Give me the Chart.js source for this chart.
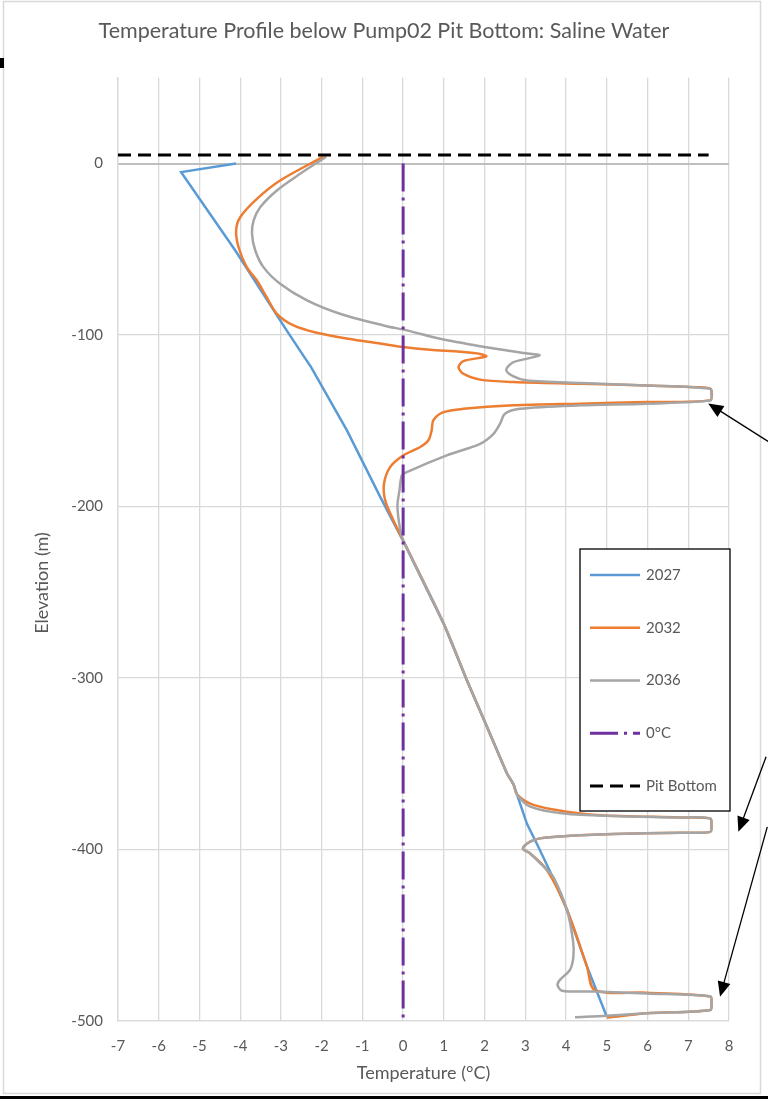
<!DOCTYPE html>
<html lang="en">
  <head>
    <title>Temperature Profile below Pump02 Pit Bottom</title>
    <meta charset="utf-8" />
    <style>
      body { margin: 0; background: #fff; }
      #marco { position: relative; width: 768px; height: 1102px; }
    </style>
  </head>
  <body>
    <div id="marco"><canvas id="lienzo"></canvas></div>

    <script src="https://cdn.jsdelivr.net/npm/chart.js"></script>
    <script>
      // temperature (°C) against elevation (m) for each model year
      const temp2027 = [-4.1, -5.45, -4.12, -2.86, -2.45, -2.26, -1.38, -0.56, 0, 0.99, 1.56, 2.06, 2.55, 2.71, 3.04, 3.28, 3.61, 4.02, 4.51, 5.0];
      const elev2027 = [0, -5, -50.7, -97.3, -112, -118.7, -155.6, -194.5, -220, -268, -301, -328.5, -355.7, -362, -385, -396.5, -413, -435, -468, -497.5];

      const temp2032 = [-1.96, -3.02, -3.59, -4.0, -4.1, -4.04, -3.84, -3.59, -3.35, -3.1, -2.69, -2.15, -1.35, -0.56, 0, 0.66, 1.4, 1.89, 2.04, 1.48,
        1.36, 1.48, 1.89, 2.71, 4.35, 5.98, 7.21, 7.54, 7.57, 7.54, 5.98, 4.35, 2.71, 1.48, 0.99, 0.74, 0.7, 0.62, 0.42, 0,
        -0.32, -0.47, -0.44, -0.24, 0, 0.99, 1.56, 2.06, 2.55, 2.71, 2.8, 3.2, 4.02, 4.84, 6.8, 7.54, 7.57, 7.54, 6.8, 5.16,
        3.94, 3.36, 3.12, 2.94, 3.12, 3.53, 4.02, 4.51, 4.71, 5.98, 7.54, 7.57, 7.54, 5.98, 5.08, 5.0];
      const elev2032 = [4, -9.9, -20.6, -31.3, -39, -48.8, -60.4, -68.2, -77.9, -87.6, -94.4, -98.5, -102.2, -105, -107, -108.6, -109.8, -111, -112.5, -115.2,
        -118.7, -122.6, -126, -127.4, -128.4, -129.4, -130.4, -131.3, -134.5, -138.1, -139.1, -140, -141, -143, -145, -149.8, -155.6, -161.4, -165.3, -170.2,
        -177, -186.7, -196.4, -208, -219.7, -268, -301, -328.5, -355.7, -362, -368, -374, -378, -380, -381.3, -381.9, -385.8, -389.7, -390.2, -391,
        -392.2, -393.5, -395.4, -399.4, -402.3, -412, -435, -468, -482, -483.5, -485.7, -489.5, -493.6, -495.5, -497.8, -498];

      const temp2036 = [-1.89, -2.53, -3.1, -3.51, -3.67, -3.71, -3.63, -3.43, -3.02, -2.36, -1.55, -0.48, 0.09, 0.91, 1.89, 2.95, 3.35, 2.71, 2.53, 2.71,
        3.04, 4.35, 5.98, 7.54, 7.58, 7.54, 5.98, 4.35, 2.87, 2.5, 2.38, 2.22, 1.89, 1.07, 0.09, -0.03, -0.09, -0.14, -0.07, 0,
        0.99, 1.56, 2.06, 2.55, 2.71, 2.8, 3.12, 3.94, 5.16, 6.8, 7.54, 7.57, 7.54, 6.8, 5.16, 3.94, 3.36, 3.12, 2.94, 3.12,
        3.53, 3.69, 4.02, 4.17, 4.18, 4.1, 3.85, 3.79, 3.9, 4.71, 5.98, 7.54, 7.57, 7.54, 5.98, 5.0, 4.22];
      const elev2036 = [4, -6, -15.7, -25.5, -33.2, -41, -50.7, -60.4, -70.1, -79.8, -87.6, -94.4, -97.3, -102.2, -106.5, -110.5, -111.9, -115.8, -120.2, -124.1,
        -126.5, -128, -129.4, -131.3, -134.2, -138.1, -140, -141, -143, -145.9, -151.7, -157.6, -163.4, -170.2, -179.9, -181.8, -190.6, -200, -213.9, -219.7,
        -268, -301, -328.5, -355.7, -362, -368, -375, -379, -380.5, -381.3, -381.9, -385.8, -389.7, -390.2, -391, -392.2, -393.5, -395.4, -399.4, -402.3,
        -412, -416, -435, -453, -462.5, -470, -476, -479, -482.3, -482.8, -484, -485.7, -489.5, -493.6, -495.5, -497, -497.8];

      // reference lines
      const zeroTemp = [0, 0];
      const zeroElev = [0, -500];
      const pitTemp = [-7, 7.5];
      const pitElev = [5, 5];

      // axis ticks
      const tempTicks = [-7, -6, -5, -4, -3, -2, -1, 0, 1, 2, 3, 4, 5, 6, 7, 8];
      const elevTicks = [0, -100, -200, -300, -400, -500];

      // callout arrows, [temperature, elevation] of tail and head
      const flechas = [
        { cola: [8.96, -162], punta: [7.49, -139.9] },
        { cola: [8.91, -345.9], punta: [8.23, -389.7] },
        { cola: [8.94, -386.8], punta: [7.78, -485.8] },
      ];

      const gris = "#595959";
      const fuente = "Lato";

      function puntos(xs, ys) {
        return xs.map((t, i) => ({ x: t, y: ys[i] }));
      }

      function dibujarFlecha(ctx, x1, y1, x2, y2) {
        const ang = Math.atan2(y2 - y1, x2 - x1);
        const largo = 15, ancho = 6.5;
        ctx.beginPath();
        ctx.moveTo(x1, y1);
        ctx.lineTo(x2 - Math.cos(ang) * largo * 0.8, y2 - Math.sin(ang) * largo * 0.8);
        ctx.stroke();
        ctx.beginPath();
        ctx.moveTo(x2, y2);
        ctx.lineTo(x2 - Math.cos(ang) * largo - Math.sin(ang) * ancho, y2 - Math.sin(ang) * largo + Math.cos(ang) * ancho);
        ctx.lineTo(x2 - Math.cos(ang) * largo + Math.sin(ang) * ancho, y2 - Math.sin(ang) * largo - Math.cos(ang) * ancho);
        ctx.closePath();
        ctx.fill();
      }

      const adornos = {
        id: "adornos",
        afterLayout(chart) {
          // centre the title on the whole canvas, not just the padded area
          if (chart.titleBlock) {
            chart.titleBlock.left = 0;
            chart.titleBlock.right = chart.width;
          }
        },
        beforeDraw(chart) {
          const { ctx, width, height } = chart;
          ctx.save();
          ctx.fillStyle = "#fff";
          ctx.fillRect(0, 0, width, height);
          ctx.strokeStyle = "#d9d9d9";
          ctx.lineWidth = 1.5;
          ctx.strokeRect(3.5, 1.5, 757, 1092);
          ctx.restore();
        },
        afterDraw(chart) {
          const { ctx, chartArea, scales } = chart;
          ctx.save();

          // vertical axis title
          ctx.fillStyle = gris;
          ctx.font = `18px ${fuente}`;
          ctx.textAlign = "center";
          ctx.textBaseline = "middle";
          ctx.translate(42, 583);
          ctx.rotate(-Math.PI / 2);
          ctx.fillText("Elevation (m)", 0, 0);
          ctx.setTransform(1, 0, 0, 1, 0, 0);

          // legend box
          const izq = chartArea.right - 149, arriba = 549;
          ctx.fillStyle = "#fff";
          ctx.fillRect(izq, arriba, 150, 262);
          ctx.strokeStyle = "#000";
          ctx.lineWidth = 1.3;
          ctx.strokeRect(izq, arriba, 150, 262);
          chart.data.datasets.forEach((ds, i) => {
            const fy = arriba + 26 + i * 52.75;
            ctx.strokeStyle = ds.borderColor;
            ctx.lineWidth = ds.borderWidth;
            ctx.setLineDash(ds.borderDash || []);
            ctx.beginPath();
            ctx.moveTo(izq + 10, fy);
            ctx.lineTo(izq + 60, fy);
            ctx.stroke();
            ctx.setLineDash([]);
            ctx.fillStyle = gris;
            ctx.font = `15px ${fuente}`;
            ctx.textAlign = "left";
            ctx.textBaseline = "middle";
            ctx.fillText(ds.label, izq + 66, fy);
          });

          // callout arrows
          ctx.strokeStyle = "#000";
          ctx.fillStyle = "#000";
          ctx.lineWidth = 1.3;
          flechas.forEach((f) => {
            dibujarFlecha(
              ctx,
              scales.x.getPixelForValue(f.cola[0]), scales.y.getPixelForValue(f.cola[1]),
              scales.x.getPixelForValue(f.punta[0]), scales.y.getPixelForValue(f.punta[1])
            );
          });

          // page edge marks
          ctx.fillStyle = "#000";
          ctx.fillRect(0, 1096, 768, 3);
          ctx.fillRect(0, 58, 4, 10);
          ctx.restore();
        },
      };

      const contexto = document.querySelector("#lienzo");
      const grafico = new Chart(contexto, {
        type: "scatter",
        data: {
          datasets: [
            {
              label: "2027",
              data: puntos(temp2027, elev2027),
              showLine: true,
              borderColor: "#5B9BD5",
              borderWidth: 2.5,
              tension: 0,
              pointRadius: 0,
              order: 5,
            },
            {
              label: "2032",
              data: puntos(temp2032, elev2032),
              showLine: true,
              borderColor: "#ED7D31",
              borderWidth: 2.5,
              tension: 0.3,
              pointRadius: 0,
              order: 4,
            },
            {
              label: "2036",
              data: puntos(temp2036, elev2036),
              showLine: true,
              borderColor: "#A5A5A5",
              borderWidth: 2.5,
              tension: 0.3,
              pointRadius: 0,
              order: 3,
            },
            {
              label: "0°C",
              data: puntos(zeroTemp, zeroElev),
              showLine: true,
              borderColor: "#7030A0",
              borderWidth: 3,
              borderDash: [28, 6, 3, 6],
              pointRadius: 0,
              order: 2,
            },
            {
              label: "Pit Bottom",
              data: puntos(pitTemp, pitElev),
              showLine: true,
              borderColor: "#000000",
              borderWidth: 3,
              borderDash: [13, 7],
              pointRadius: 0,
              order: 1,
            },
          ],
        },
        options: {
          responsive: true,
          maintainAspectRatio: false,
          animation: false,
          layout: { padding: { left: 0, right: 39, top: 0, bottom: 0 } },
          plugins: {
            legend: { display: false },
            tooltip: { enabled: false },
            title: {
              display: true,
              text: "Temperature Profile below Pump02 Pit Bottom: Saline Water",
              color: gris,
              font: { family: fuente, size: 21.5, weight: "normal" },
              padding: { top: 18, bottom: 34 },
            },
          },
          scales: {
            x: {
              type: "linear",
              min: tempTicks[0],
              max: tempTicks[tempTicks.length - 1],
              afterFit: (s) => { s.height = 81; },
              ticks: {
                stepSize: 1,
                color: gris,
                padding: 16,
                font: { family: fuente, size: 15 },
              },
              grid: { color: "#d9d9d9", lineWidth: 1.3, drawTicks: false },
              border: { color: "#d9d9d9", width: 1.3 },
              title: {
                display: true,
                text: "Temperature (°C)",
                color: gris,
                font: { family: fuente, size: 18 },
                padding: { top: 0, bottom: 18 },
              },
            },
            y: {
              type: "linear",
              min: elevTicks[elevTicks.length - 1],
              max: 50,
              afterFit: (s) => { s.width = 118; },
              ticks: {
                stepSize: 100,
                includeBounds: false,
                color: gris,
                padding: 15,
                font: { family: fuente, size: 15 },
              },
              grid: {
                color: (c) => (c.tick && c.tick.value === 0 ? "#bfbfbf" : "#d9d9d9"),
                lineWidth: (c) => (c.tick && c.tick.value === 0 ? 2 : 1.3),
                drawTicks: false,
              },
              border: { color: "#d9d9d9", width: 1.3 },
            },
          },
        },
        plugins: [adornos],
      });
    </script>
  </body>
</html>
